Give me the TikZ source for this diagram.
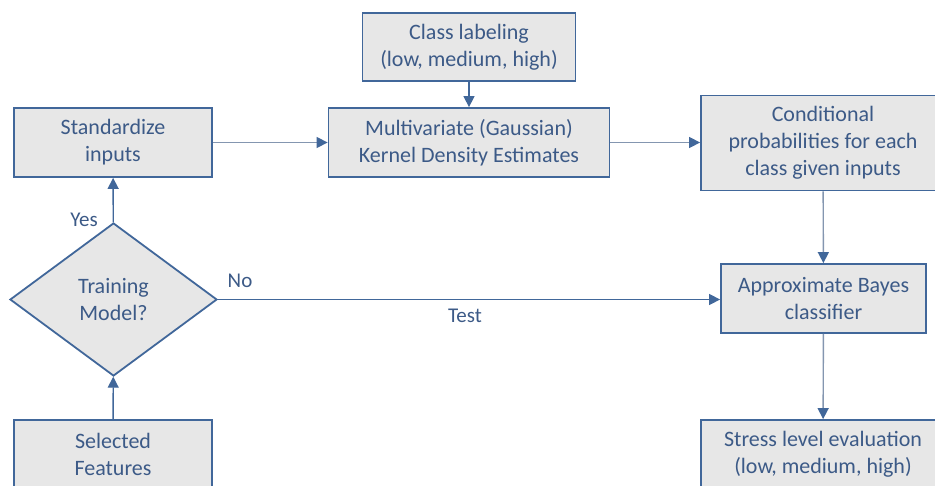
\documentclass[tikz,border=0pt]{standalone}
\usepackage{fontspec}
\setmainfont{Carlito}
\usetikzlibrary{arrows.meta,shapes.geometric}
\definecolor{boxfill}{HTML}{E7E7E7}
\definecolor{boxdraw}{HTML}{41679A}
\definecolor{txt}{HTML}{3C5A87}
\definecolor{linelight}{HTML}{8496B0}
\definecolor{linedark}{HTML}{41679A}
\tikzset{
  box/.style={draw=boxdraw, fill=boxfill, line width=1.8pt, text=txt, align=center,
    font=\fontsize{22}{27}\selectfont, inner sep=0pt},
  dec/.style={diamond, draw=boxdraw, fill=boxfill, line width=1.8pt, text=txt, align=center,
    font=\fontsize{22}{27}\selectfont, inner sep=0pt, aspect=1.353,
    minimum width=207pt, minimum height=153pt},
  conn/.style={line width=1.4pt, -{Triangle[length=11pt,width=11pt,color=linedark]}},
  lbl/.style={text=txt, font=\fontsize{21}{25}\selectfont, inner sep=0pt}
}
\begin{document}
\begin{tikzpicture}[x=1pt,y=-1pt]
\useasboundingbox (0,0) rectangle (935,485);
\clip (0,0) rectangle (935,485);
\node[box, minimum width=213pt, minimum height=68pt] (cls) at (469,47) {Class labeling\\(low, medium, high)};
\node[box, minimum width=198pt, minimum height=69pt] (std) at (113,142.5) {Standardize\\inputs};
\node[box, minimum width=281pt, minimum height=69pt] (kde) at (469,142.5) {Multivariate (Gaussian)\\Kernel Density Estimates};
\node[box, minimum width=244pt, minimum height=95pt] (cond) at (823,143) {Conditional\\probabilities for each\\class given inputs};
\node[dec] (trn) at (113.5,299.5) {Training\\Model?};
\node[box, minimum width=205pt, minimum height=69pt] (bay) at (823.5,298.5) {Approximate Bayes\\classifier};
\node[box, minimum width=198pt, minimum height=69pt] (sel) at (113,454.5) {Selected\\Features};
\node[box, minimum width=244pt, minimum height=69pt] (str) at (823,454.5) {Stress level evaluation\\(low, medium, high)};

\draw[conn, draw=linedark] (cls) -- (kde);
\draw[conn, draw=linelight] (std) -- (kde);
\draw[conn, draw=linelight] (kde.east) -- (cond.west |- kde.east);
\draw[conn, draw=linelight] (cond) -- (bay);
\draw[conn, draw=linelight] (bay) -- (str);
\draw[conn, draw=linedark] (sel) -- (trn);
\draw[conn, draw=linedark] (trn) -- (std);
\draw[conn, draw=linedark] (trn.east) -- (bay.west |- trn.east);

\node[lbl] (yes) at (84,220) {Yes};
\node[lbl] (no) at (240,281) {No};
\node[lbl] (test) at (465,316) {Test};
\end{tikzpicture}
\end{document}
